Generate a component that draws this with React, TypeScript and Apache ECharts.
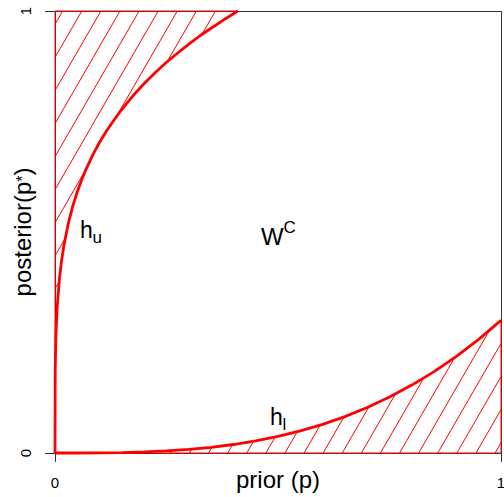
import React, { useEffect, useRef } from "react";
import * as echarts from "echarts";

// Axis ticks
const priorTicks = ["0", "1"];
const posteriorTicks = ["0", "1"];

// Upper boundary h_u (prior -> posterior)
const upperPrior = [0, 0.0005, 0.002, 0.005, 0.01, 0.015, 0.02, 0.03, 0.04, 0.05, 0.06, 0.07, 0.085, 0.1, 0.115, 0.13, 0.145, 0.16, 0.18, 0.2, 0.225, 0.25, 0.275, 0.3, 0.325, 0.35, 0.38, 0.41];
const upperPosterior = [0, 0.187, 0.264, 0.332, 0.395, 0.437, 0.47, 0.52, 0.559, 0.591, 0.618, 0.643, 0.675, 0.703, 0.728, 0.75, 0.771, 0.79, 0.814, 0.836, 0.861, 0.884, 0.905, 0.925, 0.944, 0.961, 0.981, 1];

// Lower boundary h_l
const lowerPrior = [0, 0.05, 0.1, 0.15, 0.2, 0.25, 0.3, 0.35, 0.4, 0.45, 0.5, 0.55, 0.6, 0.65, 0.7, 0.75, 0.8, 0.85, 0.9, 0.95, 1];
const lowerPosterior = [0, 0.0000375, 0.0003, 0.001, 0.0024, 0.0047, 0.0081, 0.0129, 0.0192, 0.0273, 0.0375, 0.0499, 0.0648, 0.0824, 0.1029, 0.1266, 0.1536, 0.1842, 0.2187, 0.2572, 0.3];

// Annotations
const annotMain = ["h", "W", "h"];
const annotScript = ["u", "C", "l"];
const annotKind = ["sub", "sup", "sub"];
const annotPrior = [0.0561, 0.4619, 0.4821];
const annotPosterior = [0.4864, 0.4706, 0.0633];

const FONT = '"Liberation Sans", Arial, Helvetica, sans-serif';
const RED = "#ff0000";
const LINE = "#333333";

const HATCH_ANGLE = (60 * Math.PI) / 180;
const HATCH_SPACING = 16.54;
const HATCH_PHASE = 6.67;

function hatchRenderer(verts: number[][]) {
  return (_params: any, api: any) => {
    const pts: number[][] = verts.map((v) => api.coord(v));
    const o = api.coord([0, 1]);
    const nx = Math.sin(HATCH_ANGLE);
    const ny = Math.cos(HATCH_ANGLE);
    const ux = Math.cos(HATCH_ANGLE);
    const uy = -Math.sin(HATCH_ANGLE);
    const proj = (p: number[]) => nx * (p[0] - o[0]) + ny * (p[1] - o[1]);
    let cmin = Infinity;
    let cmax = -Infinity;
    pts.forEach((p) => {
      const c = proj(p);
      cmin = Math.min(cmin, c);
      cmax = Math.max(cmax, c);
    });
    const k0 = Math.ceil((cmin - HATCH_PHASE) / HATCH_SPACING);
    const k1 = Math.floor((cmax - HATCH_PHASE) / HATCH_SPACING);
    const children: any[] = [];
    for (let k = k0; k <= k1; k++) {
      const c = HATCH_PHASE + k * HATCH_SPACING;
      const hits: { x: number; y: number; s: number }[] = [];
      for (let i = 0; i < pts.length; i++) {
        const a = pts[i];
        const b = pts[(i + 1) % pts.length];
        const da = proj(a) - c;
        const db = proj(b) - c;
        if (da < 0 !== db < 0) {
          const t = da / (da - db);
          const x = a[0] + t * (b[0] - a[0]);
          const y = a[1] + t * (b[1] - a[1]);
          hits.push({ x, y, s: ux * x + uy * y });
        }
      }
      hits.sort((p, q) => p.s - q.s);
      for (let j = 0; j + 1 < hits.length; j += 2) {
        children.push({
          type: "line",
          shape: { x1: hits[j].x, y1: hits[j].y, x2: hits[j + 1].x, y2: hits[j + 1].y },
          style: { stroke: RED, lineWidth: 1 },
        });
      }
    }
    children.push({
      type: "polygon",
      shape: { points: pts },
      style: { fill: "none", stroke: RED, lineWidth: 1 },
    });
    return { type: "group", children };
  };
}

export default function App() {
  const ref = useRef<HTMLDivElement>(null);

  useEffect(() => {
    if (!ref.current) return;
    const chart = echarts.init(ref.current, null, { renderer: "svg" });

    const upperPoly = upperPrior.map((p, i) => [p, upperPosterior[i]]).concat([[0, 1]]);
    const lowerPoly = lowerPrior.map((p, i) => [p, lowerPosterior[i]]).concat([[1, 0]]);

    const tickStyle = { color: LINE, width: 1 };

    chart.setOption({
      animation: false,
      grid: { left: 55, right: 3, top: 11, bottom: 44, containLabel: false, outerBoundsMode: "none" },
      xAxis: [
        {
          type: "value",
          position: "bottom",
          min: 0,
          max: 1,
          interval: 1,
          axisLine: { show: false },
          axisTick: { show: true, length: 9, lineStyle: tickStyle },
          axisLabel: {
            fontSize: 15,
            color: "#000",
            fontFamily: FONT,
            margin: 22,
            formatter: (v: number) => priorTicks[Math.round(v)],
          },
          splitLine: { show: true, lineStyle: tickStyle },
          name: "prior (p)",
          nameLocation: "middle",
          nameGap: 14,
          nameMoveOverlap: false,
          nameTextStyle: { fontSize: 24, color: "#000", fontFamily: FONT },
        },
        {
          type: "value",
          position: "top",
          min: 0,
          max: 1,
          interval: 1,
          axisLine: { show: false },
          axisTick: { show: true, length: 11, lineStyle: tickStyle },
          axisLabel: { show: false },
          splitLine: { show: false },
        },
      ],
      yAxis: [
        {
          type: "value",
          position: "left",
          min: 0,
          max: 1,
          interval: 1,
          axisLine: { show: false },
          axisTick: { show: true, length: 10, lineStyle: tickStyle },
          axisLabel: {
            fontSize: 15,
            color: "#000",
            fontFamily: FONT,
            rotate: 90,
            margin: 22,
            formatter: (v: number) => posteriorTicks[Math.round(v)],
          },
          splitLine: { show: true, lineStyle: tickStyle },
          name: "{a|posterior(p}{s|*}{a|)}",
          nameLocation: "middle",
          nameGap: 21,
          nameMoveOverlap: false,
          nameTextStyle: {
            color: "#000",
            fontFamily: FONT,
            rich: {
              a: { fontSize: 24, color: "#000", fontFamily: FONT },
              s: { fontSize: 16, color: "#000", fontFamily: FONT },
            },
          },
        },
        {
          type: "value",
          position: "right",
          min: 0,
          max: 1,
          interval: 1,
          axisLine: { show: false },
          axisTick: { show: true, length: 3, lineStyle: tickStyle },
          axisLabel: { show: false },
          splitLine: { show: false },
        },
      ],
      series: [
        {
          type: "custom",
          coordinateSystem: "cartesian2d",
          silent: true,
          clip: false,
          data: [[0.1, 0.9]],
          renderItem: hatchRenderer(upperPoly),
        },
        {
          type: "custom",
          coordinateSystem: "cartesian2d",
          silent: true,
          clip: false,
          data: [[0.9, 0.1]],
          renderItem: hatchRenderer(lowerPoly),
        },
        {
          type: "line",
          name: "h_u",
          data: upperPrior.map((p, i) => [p, upperPosterior[i]]),
          showSymbol: false,
          symbol: "none",
          clip: false,
          silent: true,
          lineStyle: { color: RED, width: 2.8 },
        },
        {
          type: "line",
          name: "h_l",
          data: lowerPrior.map((p, i) => [p, lowerPosterior[i]]),
          showSymbol: false,
          symbol: "none",
          clip: false,
          silent: true,
          lineStyle: { color: RED, width: 2.8 },
        },
        {
          type: "custom",
          coordinateSystem: "cartesian2d",
          silent: true,
          clip: false,
          data: annotPrior.map((p, i) => [p, annotPosterior[i], i]),
          renderItem: (params: any, api: any) => {
            const i = params.dataIndex;
            const pt = api.coord([api.value(0), api.value(1)]);
            const mainSize = annotMain[i] === "W" ? 24 : 23;
            const scriptSize = 17;
            const mainW = annotMain[i] === "W" ? 22.5 : 12.6;
            const scriptBaseline = annotKind[i] === "sub" ? pt[1] + 5 : pt[1] - 12;
            return {
              type: "group",
              children: [
                {
                  type: "text",
                  x: pt[0],
                  y: pt[1] - 0.3465 * mainSize,
                  style: {
                    text: annotMain[i],
                    fontSize: mainSize,
                    fontFamily: FONT,
                    fill: "#000",
                    align: "left",
                    verticalAlign: "middle",
                  },
                },
                {
                  type: "text",
                  x: pt[0] + mainW,
                  y: scriptBaseline - 0.3465 * scriptSize,
                  style: {
                    text: annotScript[i],
                    fontSize: scriptSize,
                    fontFamily: FONT,
                    fill: "#000",
                    align: "left",
                    verticalAlign: "middle",
                  },
                },
              ],
            };
          },
        },
      ],
    });

    return () => chart.dispose();
  }, []);

  return (
    <div
      ref={ref}
      style={{ position: "absolute", left: 0, top: 0, width: 504, height: 497, background: "#fff" }}
    />
  );
}
